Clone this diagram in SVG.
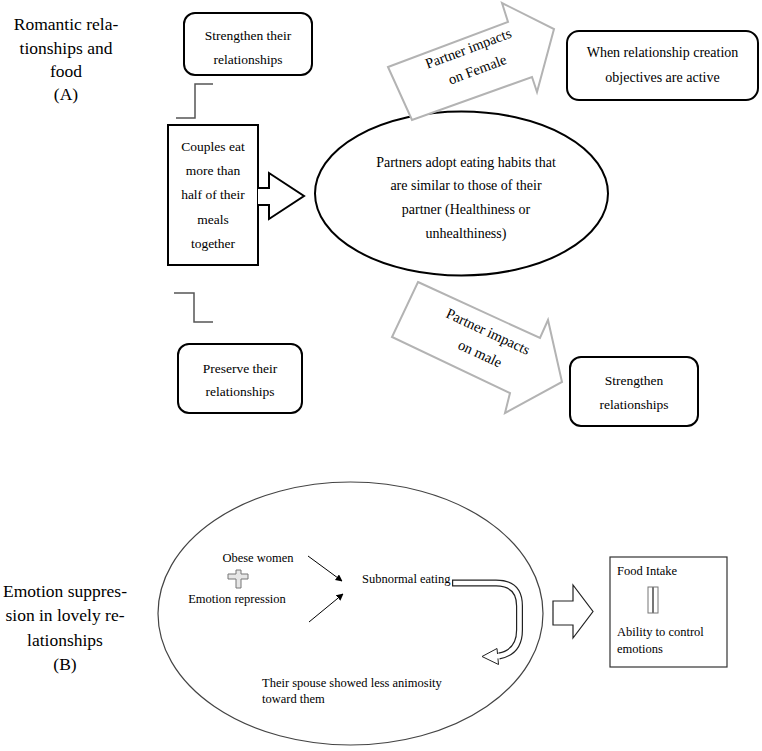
<svg xmlns="http://www.w3.org/2000/svg" width="762" height="751" viewBox="0 0 762 751" font-family="'Liberation Serif', 'Times New Roman', serif">
<style>
text{font-family:"Liberation Serif","Times New Roman",serif;fill:#000}
.title{font-size:17.5px;text-anchor:middle}
.t{font-size:13.5px;text-anchor:middle}
.e{font-size:14px;text-anchor:middle}
.s{font-size:12.5px}
.box{fill:#fff;stroke:#000;stroke-width:2}
.gray{fill:#fff;stroke:#b3b3b3;stroke-width:2}
.step{fill:none;stroke:#555;stroke-width:1.5}
</style>
<defs>
<marker id="ah" viewBox="0 0 10 10" refX="9" refY="5" markerWidth="7" markerHeight="7" orient="auto" markerUnits="userSpaceOnUse">
<path d="M0,0 L10,5 L0,10 Z" fill="#000"/>
</marker>
</defs>
<rect width="762" height="751" fill="#fff"/>

<g id="titleA">
<text class="title" x="66" y="30">Romantic rela-</text>
<text class="title" x="66" y="54">tionships and</text>
<text class="title" x="66" y="77">food</text>
<text class="title" x="66" y="100">(A)</text>
</g>

<g id="strengthenTheir">
<rect class="box" x="184" y="13" width="128" height="62" rx="11"/>
<text class="t" x="248" y="40">Strengthen their</text>
<text class="t" x="248" y="64">relationships</text>
</g>

<g id="couples">
<rect class="box" x="168" y="125" width="90" height="140"/>
<text class="t" x="213" y="151">Couples eat</text>
<text class="t" x="213" y="175">more than</text>
<text class="t" x="213" y="199">half of their</text>
<text class="t" x="213" y="224">meals</text>
<text class="t" x="213" y="248">together</text>
</g>

<g id="partnersAdopt">
<ellipse class="box" cx="461.5" cy="193.5" rx="146.5" ry="82"/>
<text class="e" x="466" y="167">Partners adopt eating habits that</text>
<text class="e" x="466" y="190">are similar to those of their</text>
<text class="e" x="466" y="214">partner (Healthiness or</text>
<text class="e" x="466" y="238">unhealthiness)</text>
</g>

<g id="whenCreation">
<rect class="box" x="567" y="31" width="191" height="69" rx="12"/>
<text class="e" x="662.5" y="57">When relationship creation</text>
<text class="e" x="662.5" y="82">objectives are active</text>
</g>

<g id="preserve">
<rect class="box" x="178" y="344" width="124" height="69" rx="11"/>
<text class="t" x="240" y="373">Preserve their</text>
<text class="t" x="240" y="396">relationships</text>
</g>

<g id="strengthenRel">
<rect class="box" x="570" y="357" width="128" height="69" rx="11"/>
<text class="t" x="634" y="385">Strengthen</text>
<text class="t" x="634" y="409">relationships</text>
</g>

<g id="titleB">
<text class="title" x="65" y="597">Emotion suppres-</text>
<text class="title" x="65" y="621">sion in lovely re-</text>
<text class="title" x="65" y="646">lationships</text>
<text class="title" x="65" y="670">(B)</text>
</g>

<g id="emotionEllipse">
<ellipse cx="350.5" cy="613.5" rx="192.5" ry="131.5" fill="none" stroke="#444" stroke-width="1.2"/>
<text class="s" x="258" y="562" text-anchor="middle">Obese women</text>
<path d="M236,570 H241 V574 H248 V579 H241 V588 H236 V579 H228 V574 H236 Z" fill="#e6e6e6" stroke="#777" stroke-width="1"/>
<text class="s" x="237" y="603" text-anchor="middle">Emotion repression</text>
<text class="s" x="362" y="583">Subnormal eating</text>
<text class="s" x="262" y="687">Their spouse showed less animosity</text>
<text class="s" x="262" y="703">toward them</text>
</g>

<g id="foodIntake">
<rect x="610" y="557" width="117" height="110" fill="#fff" stroke="#333" stroke-width="1.2"/>
<text class="s" x="617" y="575">Food Intake</text>
<rect x="648" y="587" width="4.5" height="26" fill="#fff" stroke="#777" stroke-width="1"/>
<rect x="653.5" y="587" width="4.5" height="26" fill="#fff" stroke="#777" stroke-width="1"/>
<text class="s" x="617" y="636">Ability to control</text>
<text class="s" x="617" y="653">emotions</text>
</g>

<g id="connectors">
<path class="step" d="M213,84 H195 V118 H176"/>
<path class="step" d="M174,293 H194 V322 H213"/>
<path d="M258,188 H269 V173 L304,196 L269,219 V205 H258" fill="#fff" stroke="#000" stroke-width="2"/>
<polygon class="gray" points="388,67 508,22 502,3 554,29 537,92 532,77 412,120"/>
<text font-size="14.5" text-anchor="middle" transform="translate(470,53) rotate(-20.5)">Partner impacts</text>
<text font-size="14.5" text-anchor="middle" transform="translate(479,74) rotate(-20.5)">on Female</text>
<polygon class="gray" points="418,282 540,338 548,320 562,382 505,413 510,393 392,337"/>
<text font-size="14.5" text-anchor="middle" transform="translate(486,336) rotate(25)">Partner impacts</text>
<text font-size="14.5" text-anchor="middle" transform="translate(478,358) rotate(25)">on male</text>
<line x1="308" y1="556" x2="342" y2="581" stroke="#000" stroke-width="1" marker-end="url(#ah)"/>
<line x1="309" y1="622" x2="343" y2="594" stroke="#000" stroke-width="1" marker-end="url(#ah)"/>
<path d="M452,583 H496 Q519.5,583 519.5,606 V630 Q519.5,652 499,656" fill="none" stroke="#222" stroke-width="7"/>
<polygon points="482,656.5 497,648.5 498.5,664.5" fill="#fff" stroke="#222" stroke-width="1"/>
<path d="M453.2,583 H496 Q519.5,583 519.5,606 V630 Q519.5,652 499,656 L495,656.6" fill="none" stroke="#fff" stroke-width="4.6"/>
<path d="M553,601 H573 V585 L593,611.5 L573,638 V625 H553 Z" fill="#fff" stroke="#222" stroke-width="1.2"/>
</g>
</svg>
